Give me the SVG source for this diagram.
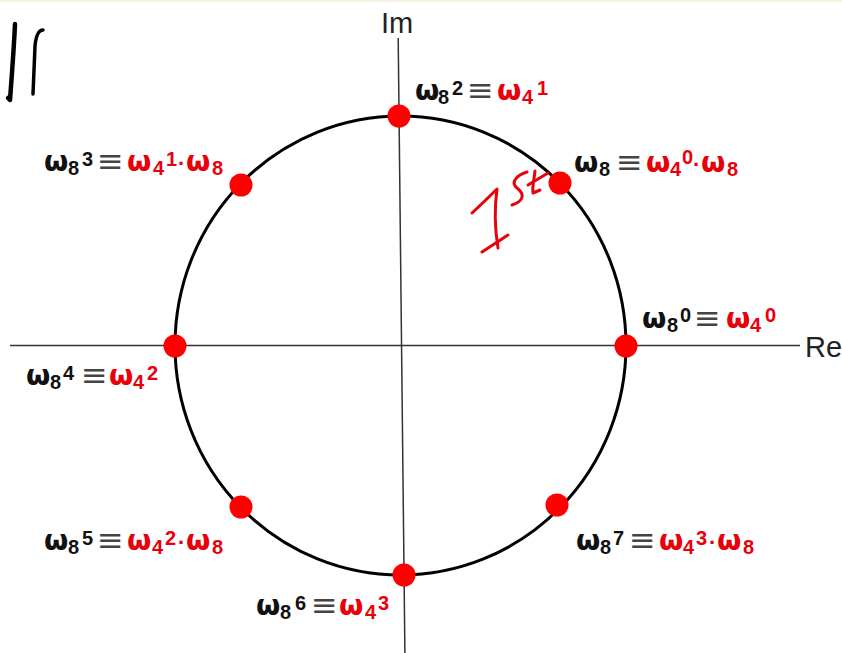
<svg xmlns="http://www.w3.org/2000/svg" width="842" height="653" viewBox="0 0 842 653">
<style>
.w{font-family:"DejaVu Sans","Liberation Sans",sans-serif;font-weight:bold;font-size:28px;fill:#111}
.d{font-family:"Liberation Sans",Arial,sans-serif;font-weight:bold;font-size:20px}
.m{font-family:"Liberation Sans",Arial,sans-serif;font-weight:bold;font-size:22px}
.eq{font-family:"DejaVu Sans",sans-serif;font-weight:normal;font-size:32px;fill:#444}
.r{fill:#e8000b}
.ax{font-family:"Liberation Sans",Arial,sans-serif;font-size:29px;fill:#222}
.dot{fill:#ff0000}
.hand{fill:none;stroke-linecap:round;stroke-linejoin:round}
</style>
<rect x="0" y="0" width="842" height="653" fill="#ffffff"/>
<rect x="0" y="0" width="842" height="2" fill="#f6f2e2"/>
<g id="axes" stroke="#333" stroke-width="1.5">
<line x1="10" y1="345.5" x2="800" y2="345.5"/>
<line x1="398.2" y1="38" x2="404.9" y2="653"/>
</g>
<text class="ax" x="381" y="33">Im</text>
<text class="ax" x="805" y="357">Re</text>
<g id="connectors">
<ellipse cx="400.5" cy="345.5" rx="225.5" ry="229.5" fill="none" stroke="#000" stroke-width="3"/>
</g>
<g id="n0">
<circle class="dot" cx="626" cy="346" r="11.5"/>
<text class="w"><tspan x="642" y="328">ω</tspan><tspan class="d" x="667" y="332">8</tspan><tspan class="d" x="680" y="322">0</tspan><tspan class="eq" x="694" y="329">≡</tspan><tspan class="r" x="726" y="328">ω</tspan><tspan class="r d" x="750" y="332">4</tspan><tspan class="r d" x="765" y="322">0</tspan></text>
</g>
<g id="n1">
<circle class="dot" cx="560" cy="183" r="11.5"/>
<text class="w"><tspan x="574" y="172">ω</tspan><tspan class="d" x="599" y="176">8</tspan><tspan class="eq" x="616" y="173">≡</tspan><tspan class="r" x="646" y="172">ω</tspan><tspan class="r d" x="670" y="176">4</tspan><tspan class="r d" x="682" y="164">0</tspan><tspan class="r m" x="693" y="172">·</tspan><tspan class="r" x="701" y="172">ω</tspan><tspan class="r d" x="727" y="176">8</tspan></text>
</g>
<g id="n2">
<circle class="dot" cx="399" cy="116" r="11.5"/>
<text class="w"><tspan x="415" y="100">ω</tspan><tspan class="d" x="438" y="104">8</tspan><tspan class="d" x="452" y="95">2</tspan><tspan class="eq" x="467" y="101">≡</tspan><tspan class="r" x="497" y="100">ω</tspan><tspan class="r d" x="522" y="104">4</tspan><tspan class="r d" x="537" y="95">1</tspan></text>
</g>
<g id="n3">
<circle class="dot" cx="241" cy="185" r="11.5"/>
<text class="w"><tspan x="44" y="171">ω</tspan><tspan class="d" x="68" y="175">8</tspan><tspan class="d" x="82" y="166">3</tspan><tspan class="eq" x="97" y="172">≡</tspan><tspan class="r" x="127" y="171">ω</tspan><tspan class="r d" x="153" y="175">4</tspan><tspan class="r d" x="166" y="166">1</tspan><tspan class="r m" x="178" y="171">·</tspan><tspan class="r" x="186" y="171">ω</tspan><tspan class="r d" x="212" y="175">8</tspan></text>
</g>
<g id="n4">
<circle class="dot" cx="175" cy="346" r="11.5"/>
<text class="w"><tspan x="26" y="385">ω</tspan><tspan class="d" x="50" y="389">8</tspan><tspan class="d" x="63" y="380">4</tspan><tspan class="eq" x="81" y="386">≡</tspan><tspan class="r" x="109" y="385">ω</tspan><tspan class="r d" x="133" y="389">4</tspan><tspan class="r d" x="147" y="380">2</tspan></text>
</g>
<g id="n5">
<circle class="dot" cx="241" cy="507" r="11.5"/>
<text class="w"><tspan x="44" y="550">ω</tspan><tspan class="d" x="68" y="554">8</tspan><tspan class="d" x="82" y="545">5</tspan><tspan class="eq" x="97" y="551">≡</tspan><tspan class="r" x="127" y="550">ω</tspan><tspan class="r d" x="152" y="554">4</tspan><tspan class="r d" x="165" y="545">2</tspan><tspan class="r m" x="178" y="550">·</tspan><tspan class="r" x="186" y="550">ω</tspan><tspan class="r d" x="212" y="554">8</tspan></text>
</g>
<g id="n6">
<circle class="dot" cx="404" cy="575" r="11.5"/>
<text class="w"><tspan x="256" y="615">ω</tspan><tspan class="d" x="280" y="619">8</tspan><tspan class="d" x="295" y="610">6</tspan><tspan class="eq" x="311" y="616">≡</tspan><tspan class="r" x="339" y="615">ω</tspan><tspan class="r d" x="365" y="619">4</tspan><tspan class="r d" x="378" y="610">3</tspan></text>
</g>
<g id="n7">
<circle class="dot" cx="557" cy="505" r="11.5"/>
<text class="w"><tspan x="576" y="550">ω</tspan><tspan class="d" x="600" y="554">8</tspan><tspan class="d" x="613" y="545">7</tspan><tspan class="eq" x="629" y="551">≡</tspan><tspan class="r" x="659" y="550">ω</tspan><tspan class="r d" x="683" y="554">4</tspan><tspan class="r d" x="696" y="545">3</tspan><tspan class="r m" x="709" y="550">·</tspan><tspan class="r" x="717" y="550">ω</tspan><tspan class="r d" x="743" y="554">8</tspan></text>
</g>
<g id="handwriting">
<path class="hand" stroke="#000" stroke-width="4.5" d="M15,24 C14,47 12,73 10,100 L8,98"/>
<path class="hand" stroke="#000" stroke-width="3.5" d="M43,30 C38,30 36,36 35,46 L33,94"/>
<g class="hand" stroke="#e8000b" stroke-width="3">
<path d="M472,213 Q486,200 497,189 Q493,218 498,248"/>
<path d="M482,252 L508,235"/>
<path d="M527,172 C517,175 510,182 517,188 C525,194 524,201 512,205"/>
<path d="M535,171 C534,180 532,188 533,193 L540,190"/>
<path d="M528,185 L548,173"/>
</g>
</g>
</svg>
